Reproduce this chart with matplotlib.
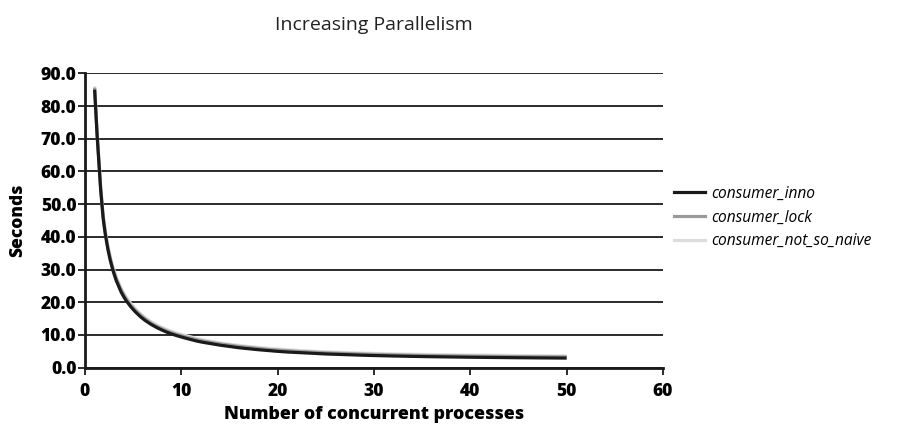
import matplotlib
matplotlib.use("Agg")
import matplotlib.pyplot as plt
from matplotlib.path import Path
from matplotlib.patches import PathPatch
from matplotlib.lines import Line2D

# Measured run times (seconds) for 1..50 concurrent processes
processes = list(range(1, 51))

consumer_inno = [
    85.0, 43.0, 28.8, 21.8, 17.8, 15.0, 13.0, 11.5, 10.3, 9.4,
    8.6, 7.9, 7.4, 6.9, 6.5, 6.1, 5.8, 5.5, 5.25, 5.0,
    4.8, 4.65, 4.5, 4.35, 4.2, 4.1, 4.0, 3.9, 3.8, 3.72,
    3.65, 3.58, 3.52, 3.46, 3.41, 3.36, 3.32, 3.28, 3.24, 3.2,
    3.17, 3.14, 3.11, 3.08, 3.05, 3.03, 3.0, 2.98, 2.96, 2.94,
]
consumer_lock = [
    85.6, 43.6, 29.4, 22.4, 18.3, 15.5, 13.4, 11.9, 10.7, 9.8,
    9.0, 8.3, 7.8, 7.3, 6.9, 6.5, 6.2, 5.9, 5.6, 5.4,
    5.2, 5.0, 4.85, 4.7, 4.55, 4.45, 4.35, 4.25, 4.15, 4.07,
    4.0, 3.93, 3.87, 3.81, 3.76, 3.71, 3.67, 3.63, 3.59, 3.55,
    3.52, 3.49, 3.46, 3.43, 3.4, 3.38, 3.35, 3.33, 3.31, 3.29,
]
consumer_not_so_naive = [
    86.0, 44.1, 29.9, 22.9, 18.8, 15.9, 13.8, 12.3, 11.1, 10.2,
    9.4, 8.7, 8.1, 7.6, 7.2, 6.8, 6.5, 6.2, 5.9, 5.7,
    5.5, 5.3, 5.15, 5.0, 4.85, 4.75, 4.65, 4.55, 4.45, 4.37,
    4.3, 4.23, 4.17, 4.11, 4.06, 4.01, 3.97, 3.93, 3.89, 3.85,
    3.82, 3.79, 3.76, 3.73, 3.7, 3.68, 3.65, 3.63, 3.61, 3.59,
]

series_names = ['consumer_inno', 'consumer_lock', 'consumer_not_so_naive']
series_colors = ['#1a1a1a', '#9a9a9a', '#dcdcdc']

y_ticks = [0, 10, 20, 30, 40, 50, 60, 70, 80, 90]
x_ticks = [0, 10, 20, 30, 40, 50, 60]

plt.rcParams['font.family'] = ['Open Sans', 'DejaVu Sans']


def smooth_path(xs, ys):
    """Smoothed line through the points: monotone cubic (PCHIP) Bezier segments."""
    n = len(xs)
    h = [xs[i + 1] - xs[i] for i in range(n - 1)]
    d = [(ys[i + 1] - ys[i]) / h[i] for i in range(n - 1)]
    m = [0.0] * n
    for i in range(1, n - 1):
        if d[i - 1] * d[i] > 0:
            w1 = 2 * h[i] + h[i - 1]
            w2 = h[i] + 2 * h[i - 1]
            m[i] = (w1 + w2) / (w1 / d[i - 1] + w2 / d[i])
    m[0] = ((2 * h[0] + h[1]) * d[0] - h[0] * d[1]) / (h[0] + h[1])
    if m[0] * d[0] <= 0:
        m[0] = 0.0
    m[-1] = ((2 * h[-1] + h[-2]) * d[-1] - h[-1] * d[-2]) / (h[-1] + h[-2])
    if m[-1] * d[-1] <= 0:
        m[-1] = 0.0
    verts = [(xs[0], ys[0])]
    codes = [Path.MOVETO]
    for i in range(n - 1):
        c1 = (xs[i] + h[i] / 3, ys[i] + m[i] * h[i] / 3)
        c2 = (xs[i + 1] - h[i] / 3, ys[i + 1] - m[i + 1] * h[i] / 3)
        verts += [c1, c2, (xs[i + 1], ys[i + 1])]
        codes += [Path.CURVE4] * 3
    return Path(verts, codes)


fig = plt.figure(figsize=(9.09, 4.38), dpi=100)
ax = fig.add_axes([85 / 909, 70.3 / 438, (663 - 85) / 909, (367.7 - 73.3) / 438])

data = [consumer_inno, consumer_lock, consumer_not_so_naive]
lw = 2.3
for k in (2, 1, 0):
    patch = PathPatch(smooth_path(processes, data[k]), fill=False,
                      edgecolor=series_colors[k], lw=lw, zorder=5 - k,
                      capstyle='butt', joinstyle='round')
    ax.add_patch(patch)

ax.set_xlim(0, 60)
ax.set_ylim(0, 90)
ax.set_xticks(x_ticks)
ax.set_yticks(y_ticks)
ax.set_xticklabels([str(v) for v in x_ticks], fontweight='heavy', fontsize=12.5)
ax.set_yticklabels([f"{v:.1f}" for v in y_ticks], fontweight='heavy', fontsize=12.5)

ax.yaxis.grid(True, color='#1a1a1a', lw=1.3)
ax.set_axisbelow(True)
for s in ('top', 'right'):
    ax.spines[s].set_visible(False)
for s in ('left', 'bottom'):
    ax.spines[s].set_linewidth(2.0)
    ax.spines[s].set_color('#1a1a1a')
ax.tick_params(axis='both', direction='out', length=5, width=1.3, color='#1a1a1a')
ax.tick_params(axis='x', pad=6)
ax.tick_params(axis='y', pad=1.2)

ax.set_xlabel('Number of concurrent processes', fontweight='heavy', fontsize=12.8, labelpad=4)
ax.set_ylabel('Seconds', fontweight='heavy', fontsize=12.5, labelpad=10)
ax.set_title('Increasing Parallelism', fontsize=14, pad=31, color='#222222')

handles = [Line2D([], [], color=c, lw=lw) for c in series_colors]
ax.legend(handles, series_names,
          loc='center left', bbox_to_anchor=(1.0, 0.51), frameon=False,
          prop={'style': 'italic', 'size': 11.2}, handlelength=2.0,
          handletextpad=0.4, labelspacing=0.5, borderaxespad=0.3)

fig.savefig('out.png', dpi=100)
